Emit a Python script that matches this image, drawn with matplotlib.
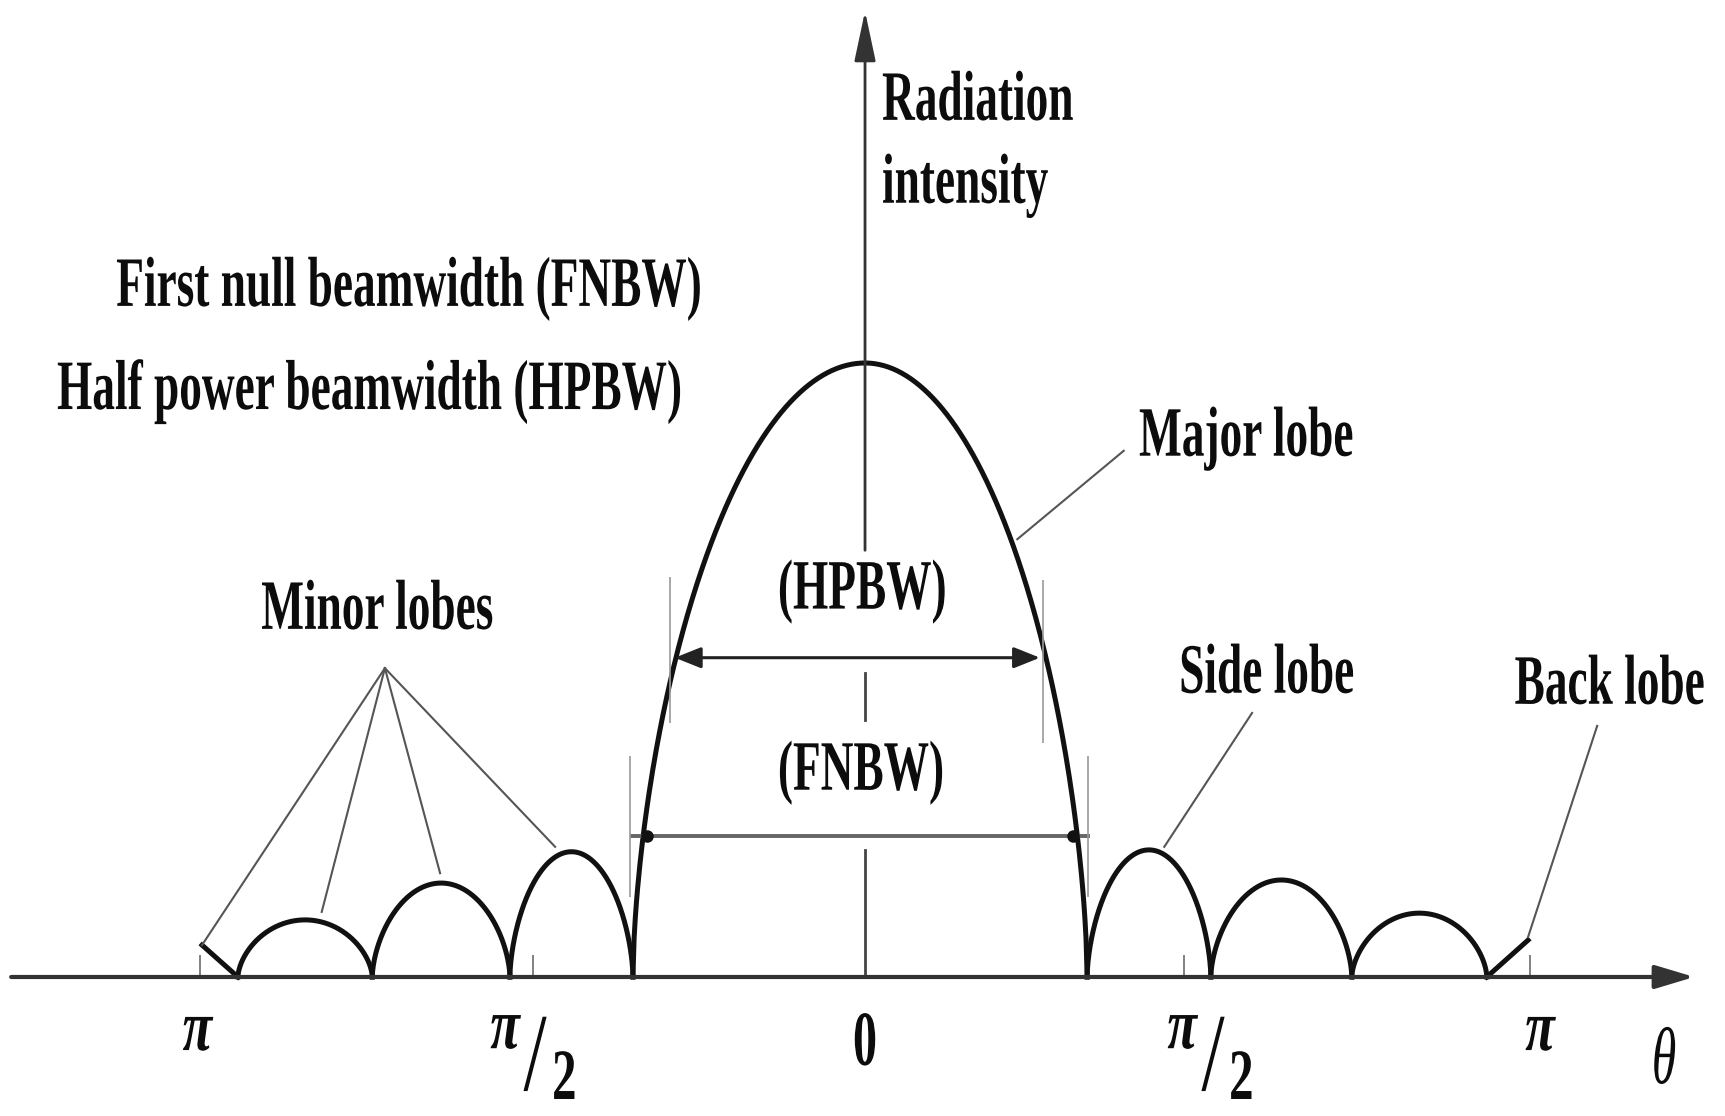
import numpy as np
import matplotlib.pyplot as plt
import matplotlib.patheffects as pe
from matplotlib.transforms import Affine2D

# ---- data: theta in units of pi, intensity relative to the major lobe ----
main_nulls = [-0.349, 0.334]
main_peak = 1.0
left_nulls = [-0.349, -0.534, -0.741, -0.943]
right_nulls = [0.334, 0.520, 0.732, 0.935]
left_peaks = [0.204, 0.153, 0.093]
right_peaks = [0.207, 0.158, 0.104]
back_left = [-0.997, 0.052]
back_right = [0.997, 0.060]

hpbw_y = 0.52
hpbw_ends = [-0.286, 0.263]
hpbw_ticks = [-0.293, 0.268]
fnbw_y = 0.23
fnbw_ends = [-0.350, 0.335]
fnbw_dots = [-0.328, 0.313]
fnbw_ticks = [-0.353, 0.335]

tick_pos = [-1.0, -0.5, 0.48, 1.0]

# pointer lines (start on the curve, end near the label)
minor_hub = (-0.722, 0.503)
minor_targets = [(-0.997, 0.052), (-0.817, 0.106), (-0.639, 0.169), (-0.466, 0.212)]
major_ptr = [(0.229, 0.713), (0.389, 0.857)]
side_ptr = [(0.450, 0.212), (0.582, 0.430)]
back_ptr = [(0.997, 0.065), (1.101, 0.409)]

FONT = ['Liberation Serif', 'DejaVu Serif']


class Squeeze(pe.AbstractPathEffect):
    # draw the glyphs narrower around the text anchor (condensed look of the scan)
    def __init__(self, sx):
        super().__init__()
        self.sx = sx
        self.text = None

    def draw_path(self, renderer, gc, tpath, affine, rgbFace=None):
        t = self.text
        x0 = t.get_transform().transform(t.get_unitless_position())[0]
        sq = Affine2D().translate(-x0, 0).scale(self.sx, 1).translate(x0, 0)
        renderer.draw_path(gc, tpath, affine + sq, rgbFace)


def label(x, y, s, size=51, sx=0.64, ha='left', weight='bold', style='normal'):
    eff = Squeeze(sx)
    t = ax.text(x, y, s, fontsize=size, family=FONT, fontweight=weight,
                fontstyle=style, ha=ha, va='baseline', color='#0c0c0c',
                path_effects=[eff])
    eff.text = t
    return t


def lobe(a, b, c, h, p=0.6, n=200):
    xl = np.linspace(a, c, n)
    xr = np.linspace(c, b, n)
    yl = h * np.clip(1 - ((c - xl) / (c - a)) ** 2, 0, None) ** p
    yr = h * np.clip(1 - ((xr - c) / (b - c)) ** 2, 0, None) ** p
    return np.r_[xl, xr], np.r_[yl, yr]


fig = plt.figure(figsize=(17.25, 11.16), dpi=100)
ax = fig.add_axes([0, 0, 1, 1])
ax.set_xlim(-1.3008, 1.2932)
ax.set_ylim(-0.2264, 1.5912)
ax.axis('off')

# axes with arrows
ax.annotate('', xy=(1.247, 0), xytext=(-1.284, 0),
            arrowprops=dict(arrowstyle='-|>,head_length=1.2,head_width=0.36',
                            mutation_scale=20, lw=3, color='#333',
                            shrinkA=0, shrinkB=0))
ax.plot([0, 0], [0, 0.207], color='#444', lw=2)
ax.plot([0, 0], [0.419, 0.495], color='#444', lw=2)
ax.annotate('', xy=(0, 1.573), xytext=(0, 0.695),
            arrowprops=dict(arrowstyle='-|>,head_length=1.55,head_width=0.33',
                            mutation_scale=20, lw=2, color='#333',
                            shrinkA=0, shrinkB=0))

ax.vlines(tick_pos, 0, 0.036, color='#777', lw=1.3)

# lobes
x, y = lobe(main_nulls[0], main_nulls[1], 0.0, main_peak)
ax.plot(x, y, color='#111', lw=3.6)
for i, h in enumerate(left_peaks):
    a, b = left_nulls[i + 1], left_nulls[i]
    x, y = lobe(a, b, (a + b) / 2, h)
    ax.plot(x, y, color='#111', lw=3.6)
for i, h in enumerate(right_peaks):
    a, b = right_nulls[i], right_nulls[i + 1]
    x, y = lobe(a, b, (a + b) / 2, h)
    ax.plot(x, y, color='#111', lw=3.6)
ax.plot([left_nulls[-1], back_left[0]], [0, back_left[1]], color='#111', lw=3.6)
ax.plot([right_nulls[-1], back_right[0]], [0, back_right[1]], color='#111', lw=3.6)

# beamwidth markers
ax.annotate('', xy=(hpbw_ends[0], hpbw_y), xytext=(hpbw_ends[1], hpbw_y),
            arrowprops=dict(arrowstyle='<|-|>,head_length=0.8,head_width=0.32',
                            mutation_scale=20, lw=2.2, color='#222',
                            shrinkA=0, shrinkB=0))
ax.vlines(hpbw_ticks, [0.414, 0.381], [0.651, 0.647], color='#999', lw=1.2)
ax.plot(fnbw_ends, [fnbw_y, fnbw_y], color='#666', lw=2.8)
ax.plot(fnbw_dots, [fnbw_y, fnbw_y], 'o', color='#111', ms=8)
ax.vlines(fnbw_ticks, 0.13, 0.36, color='#999', lw=1.2)

# pointer lines
for tx, ty in minor_targets:
    ax.plot([minor_hub[0], tx], [minor_hub[1], ty], color='#555', lw=1.5)
for seg in (major_ptr, side_ptr, back_ptr):
    ax.plot([seg[0][0], seg[1][0]], [seg[0][1], seg[1][1]], color='#555', lw=1.5)

# labels
label(0.0256, 1.396, 'Radiation')
label(0.0256, 1.261, 'intensity')
label(-1.126, 1.093, 'First null beamwidth (FNBW)')
label(-1.215, 0.925, 'Half power beamwidth (HPBW)')
label(0.412, 0.849, 'Major lobe')
label(-0.131, 0.600, '(HPBW)')
label(-0.131, 0.305, '(FNBW)')
label(-0.908, 0.567, 'Minor lobes')
label(0.736, 0.463, 'Side lobe', ha='right')
label(1.263, 0.445, 'Back lobe', ha='right')

# tick labels
label(-1.004, -0.119, 'π', size=52, sx=0.75, ha='center', style='italic')
label(1.015, -0.119, 'π', size=52, sx=0.75, ha='center', style='italic')
label(0.0, -0.143, '0', size=56, sx=0.62, ha='center')
label(1.2015, -0.173, 'θ', size=58, sx=0.62, ha='center', style='italic',
      weight='normal')
for px, sx_, tx in [(-0.519, -0.4962, -0.4707), (0.4992, 0.5233, 0.5474)]:
    label(px, -0.116, 'π', size=52, sx=0.75, ha='right', style='italic')
    label(sx_, -0.184, '/', size=80, sx=0.75, ha='center', weight='normal')
    label(tx, -0.1987, '2', size=52, sx=0.68, ha='left')

fig.savefig('out.png', dpi=100)
